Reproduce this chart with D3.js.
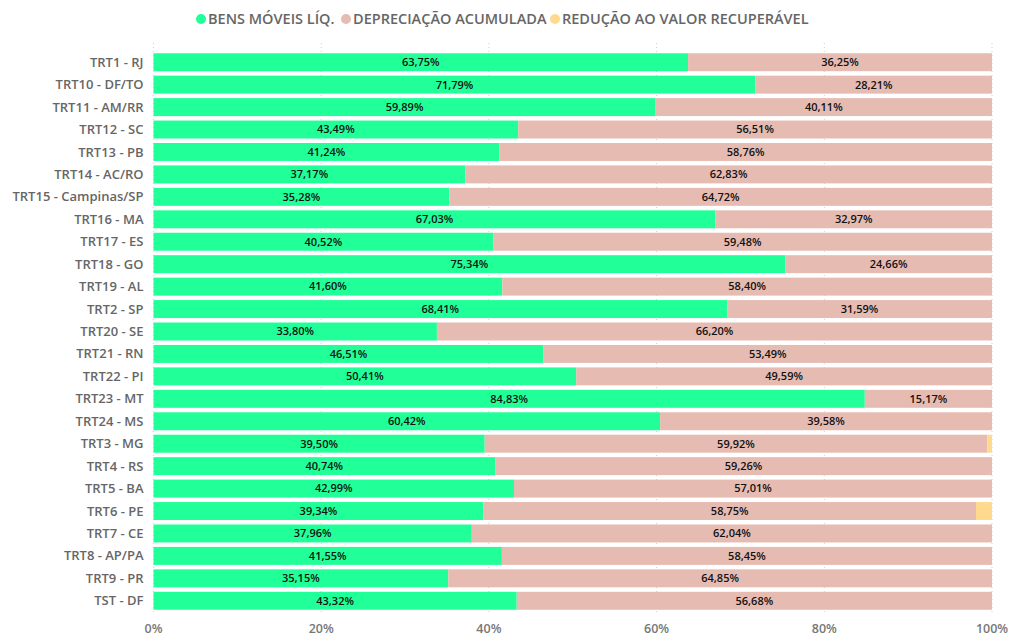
<!DOCTYPE html>
<html>
<head>
<meta charset="utf-8">
<script src="https://cdn.jsdelivr.net/npm/d3@7"></script>
<style>
  body { margin: 0; background: #fff; }
  text { font-family: "Open Sans", "Segoe UI", sans-serif; }
</style>
</head>
<body>
<div id="chart"></div>
<script>
// categories and series (percent of total)
var categories = ["TRT1 - RJ", "TRT10 - DF/TO", "TRT11 - AM/RR", "TRT12 - SC", "TRT13 - PB",
  "TRT14 - AC/RO", "TRT15 - Campinas/SP", "TRT16 - MA", "TRT17 - ES", "TRT18 - GO",
  "TRT19 - AL", "TRT2 - SP", "TRT20 - SE", "TRT21 - RN", "TRT22 - PI", "TRT23 - MT",
  "TRT24 - MS", "TRT3 - MG", "TRT4 - RS", "TRT5 - BA", "TRT6 - PE", "TRT7 - CE",
  "TRT8 - AP/PA", "TRT9 - PR", "TST - DF"];
var bensMoveis = [63.75, 71.79, 59.89, 43.49, 41.24, 37.17, 35.28, 67.03, 40.52, 75.34,
  41.60, 68.41, 33.80, 46.51, 50.41, 84.83, 60.42, 39.50, 40.74, 42.99, 39.34, 37.96,
  41.55, 35.15, 43.32];
var depreciacao = [36.25, 28.21, 40.11, 56.51, 58.76, 62.83, 64.72, 32.97, 59.48, 24.66,
  58.40, 31.59, 66.20, 53.49, 49.59, 15.17, 39.58, 59.92, 59.26, 57.01, 58.75, 62.04,
  58.45, 64.85, 56.68];
var reducao = [0, 0, 0, 0, 0, 0, 0, 0, 0, 0, 0, 0, 0, 0, 0, 0, 0, 0.58, 0, 0, 1.91, 0, 0, 0, 0];
var seriesNames = ["BENS MÓVEIS LÍQ.", "DEPRECIAÇÃO ACUMULADA", "REDUÇÃO AO VALOR RECUPERÁVEL"];
var seriesColors = ["#21ff99", "#e6bbb1", "#ffd98e"];
var xTicks = [0, 20, 40, 60, 80, 100];

var width = 1011, height = 636;
var margin = { top: 51, right: 19, bottom: 24, left: 153.5 };

var svg = d3.select("#chart").append("svg")
  .attr("width", width)
  .attr("height", height);

var x = d3.scaleLinear().domain([0, 100]).range([margin.left, width - margin.right]);
var y = d3.scaleBand().domain(categories)
  .range([margin.top, height - margin.bottom])
  .paddingInner(0.2).paddingOuter(0.1);

// gridlines
svg.append("g").selectAll("line")
  .data(xTicks).enter().append("line")
  .attr("x1", function (d) { return x(d); })
  .attr("x2", function (d) { return x(d); })
  .attr("y1", margin.top - 8)
  .attr("y2", height - margin.bottom)
  .attr("stroke", "#cfcfcf")
  .attr("stroke-dasharray", "1,3");

// x axis labels
svg.append("g").selectAll("text")
  .data(xTicks).enter().append("text")
  .attr("x", function (d) { return x(d); })
  .attr("y", 629)
  .attr("dy", "0.35em")
  .attr("text-anchor", "middle")
  .attr("font-size", 12.5)
  .attr("font-weight", 600)
  .attr("fill", "#777")
  .text(function (d) { return d + "%"; });

// y labels
svg.append("g").selectAll("text")
  .data(categories).enter().append("text")
  .attr("x", margin.left - 10)
  .attr("y", function (d) { return y(d) + y.bandwidth() / 2; })
  .attr("dy", "0.35em")
  .attr("text-anchor", "end")
  .attr("font-size", 13)
  .attr("font-weight", 600)
  .attr("fill", "#666")
  .text(function (d) { return d; });

// stacked rows
var rows = categories.map(function (c, i) {
  return { cat: c, v: [bensMoveis[i], depreciacao[i], reducao[i]] };
});
var stack = d3.stack().keys([0, 1, 2]).value(function (d, k) { return d.v[k]; });
var layers = stack(rows);

var fmt = function (v) { return v.toFixed(2).replace(".", ",") + "%"; };

layers.forEach(function (layer, k) {
  var g = svg.append("g");
  g.selectAll("rect")
    .data(layer).enter().append("rect")
    .attr("x", function (d) { return x(d[0]); })
    .attr("y", function (d) { return y(d.data.cat); })
    .attr("width", function (d) { return x(d[1]) - x(d[0]); })
    .attr("height", y.bandwidth())
    .attr("fill", seriesColors[k]);
  if (k < 2) {
    g.selectAll("text")
      .data(layer).enter().append("text")
      .attr("x", function (d) { return x((d[0] + d[1]) / 2); })
      .attr("y", function (d) { return y(d.data.cat) + y.bandwidth() / 2; })
      .attr("dy", "0.35em")
      .attr("text-anchor", "middle")
      .attr("font-size", 11)
      .attr("font-weight", 600)
      .attr("fill", "#111")
      .text(function (d) { return fmt(d[1] - d[0]); });
  }
});

// legend
var legendX = [201, 346, 555];
var legend = svg.append("g");
seriesNames.forEach(function (name, k) {
  legend.append("circle")
    .attr("cx", legendX[k])
    .attr("cy", 19)
    .attr("r", 5)
    .attr("fill", seriesColors[k]);
  legend.append("text")
    .attr("x", legendX[k] + 7)
    .attr("y", 19)
    .attr("dy", "0.35em")
    .attr("font-size", 14.5)
    .attr("font-weight", 600)
    .attr("fill", "#666")
    .text(name);
});
</script>
</body>
</html>
